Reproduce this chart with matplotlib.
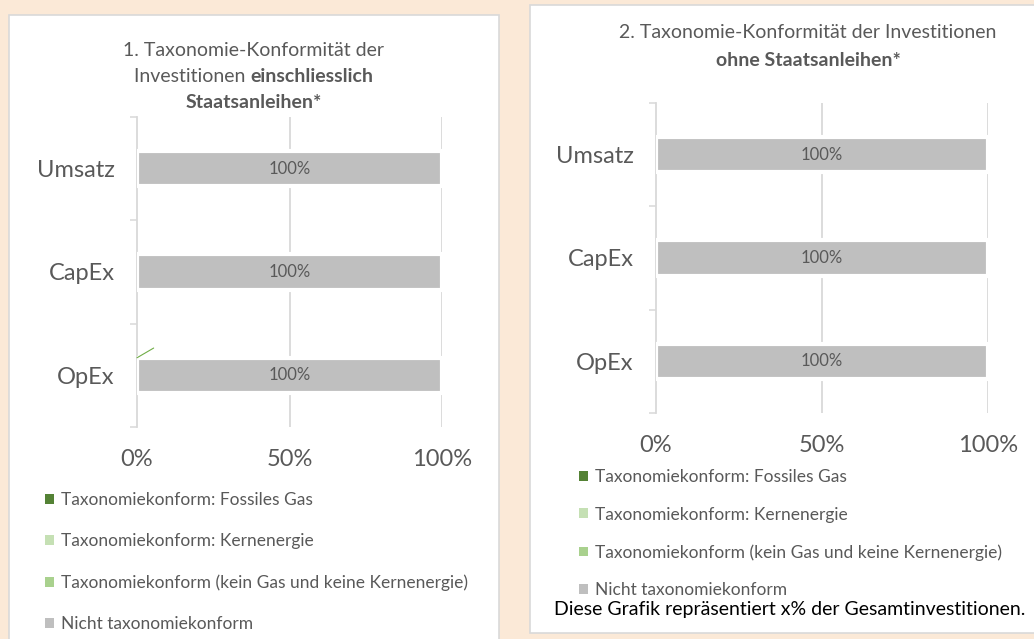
import numpy as np
import matplotlib.pyplot as plt
from matplotlib.patches import Rectangle

plt.rcParams['font.family'] = ['Lato', 'DejaVu Sans']

categories = ['Umsatz', 'CapEx', 'OpEx']
series_names = ['Taxonomiekonform: Fossiles Gas',
                'Taxonomiekonform: Kernenergie',
                'Taxonomiekonform (kein Gas und keine Kernenergie)',
                'Nicht taxonomiekonform']
colors = ['#548235', '#C5E0B4', '#A9D18E', '#BFBFBF']

# chart 1: incl. government bonds
gas_1 = [0, 0, 0]
nuclear_1 = [0, 0, 0]
other_1 = [0, 0, 0]
not_aligned_1 = [100, 100, 100]

# chart 2: without government bonds
gas_2 = [0, 0, 0]
nuclear_2 = [0, 0, 0]
other_2 = [0, 0, 0]
not_aligned_2 = [100, 100, 100]

xticks = [0, 50, 100]
xticklabels = ['0%', '50%', '100%']

grey_txt = '#595959'
grid_c = '#D9D9D9'
W, H = 1034, 639

fig = plt.figure(figsize=(W / 100, H / 100), dpi=100)
fig.patch.set_facecolor('#FBE9D7')

# white panel boxes
fig.patches.append(Rectangle((9 / W, -0.05), 490 / W, 1.05 - 15 / H, transform=fig.transFigure,
                             facecolor='white', edgecolor=grid_c, lw=1.2, zorder=-5))
fig.patches.append(Rectangle((530 / W, 1 - 633 / H), 0.6, 628 / H, transform=fig.transFigure,
                             facecolor='white', edgecolor=grid_c, lw=1.2, zorder=-5))


def px(x, y):
    return x / W, 1 - y / H


def mixed_line(x, y, parts, size):
    r = fig.canvas.get_renderer()
    objs = []
    for s, w in parts:
        t = fig.text(0, 0, s, fontsize=size, fontweight=w, color=grey_txt, va='center', ha='left')
        objs.append(t)
    widths = [t.get_window_extent(r).width / W for t in objs]
    cur = x - sum(widths) / 2
    for t, wd in zip(objs, widths):
        t.set_position((cur, y))
        cur += wd


def panel(rect, series, leg_top, leg_space, leader=False):
    ax = fig.add_axes(rect)
    ax.set_facecolor('none')
    y = np.arange(len(categories))
    left = np.zeros(len(categories))
    bars = []
    for vals, c, name in zip(series, colors, series_names):
        b = ax.barh(y, vals, left=left, height=0.34, color=c, edgecolor='white', lw=3,
                    label=name, zorder=3)
        bars.append(b)
        left = left + np.array(vals)
    ax.bar_label(bars[-1], labels=[f'{v:.0f}%' for v in series[-1]], label_type='center',
                 fontsize=12, color=grey_txt, zorder=4)
    ax.set_xlim(0, 100)
    ax.set_ylim(len(categories) - 0.5, -0.5)
    ax.set_xticks(xticks)
    ax.set_xticklabels(xticklabels, fontsize=17, color=grey_txt)
    ax.tick_params(axis='x', length=0, pad=15.5)
    ax.set_yticks(np.arange(len(categories) + 1) - 0.5)
    ax.set_yticklabels([])
    ax.set_yticks(y, minor=True)
    ax.set_yticklabels(categories, minor=True, fontsize=17, color=grey_txt)
    ax.tick_params(axis='y', which='major', length=5, width=1.1, color=grid_c, direction='out')
    ax.tick_params(axis='y', which='minor', length=0, pad=16)
    for s in ['top', 'right', 'bottom']:
        ax.spines[s].set_visible(False)
    ax.spines['left'].set_color(grid_c)
    ax.spines['left'].set_linewidth(1.3)
    for xv in xticks[1:]:
        ax.axvline(xv, color=grid_c, lw=1.3, zorder=1)
    if leader:
        ax.annotate('', xy=(series[2][2], 2 - 0.17), xytext=(12, 7), textcoords='offset points',
                    arrowprops=dict(arrowstyle='-', color='#70AD47', lw=0.8, shrinkA=0, shrinkB=0))
    leg = ax.legend(loc='upper left', bbox_to_anchor=leg_top, bbox_transform=fig.transFigure,
                    frameon=False, fontsize=12.5, handlelength=0.5, handleheight=0.5,
                    handletextpad=0.45, labelspacing=leg_space, borderpad=0, borderaxespad=0)
    for t in leg.get_texts():
        t.set_color(grey_txt)
    for p in leg.get_patches():
        p.set_edgecolor('none')
        p.set_linewidth(0)
    return ax


panel([137 / W, 1 - 427 / H, 305 / W, 310 / H],
      [gas_1, nuclear_1, other_1, not_aligned_1], px(45, 492), 1.45, leader=True)
panel([656 / W, 1 - 413 / H, 332 / W, 310 / H],
      [gas_2, nuclear_2, other_2, not_aligned_2], px(579, 469), 1.24)

# titles
mixed_line(254 / W, 1 - 50 / H, [('1. Taxonomie-Konformität der', 'normal')], 14)
mixed_line(254 / W, 1 - 76 / H, [('Investitionen ', 'normal'), ('einschliesslich', 'bold')], 14)
mixed_line(254 / W, 1 - 102 / H, [('Staatsanleihen*', 'bold')], 14)
mixed_line(808 / W, 1 - 33 / H, [('2. Taxonomie-Konformität der Investitionen', 'normal')], 14)
mixed_line(808 / W, 1 - 60 / H, [('ohne Staatsanleihen*', 'bold')], 14)

fig.text(790 / W, 1 - 610 / H, 'Diese Grafik repräsentiert x% der Gesamtinvestitionen.',
         ha='center', va='center', fontsize=14, color='black')

fig.savefig('out.png', dpi=100, facecolor=fig.get_facecolor())
